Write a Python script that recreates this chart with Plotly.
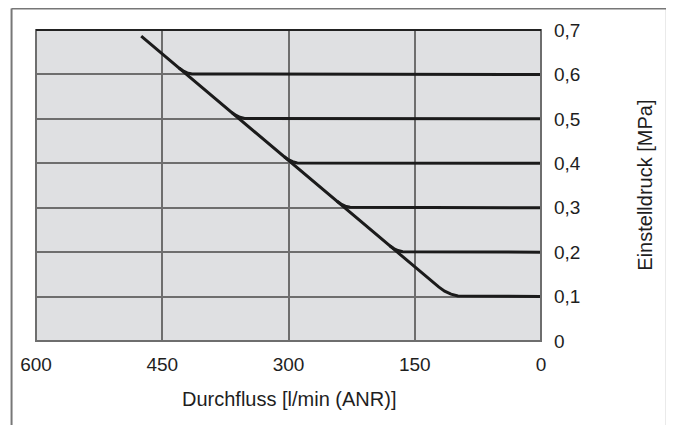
import plotly.graph_objects as go

# ---- data ----
x_ticks = [600, 450, 300, 150, 0]
y_ticks = [0, 0.1, 0.2, 0.3, 0.4, 0.5, 0.6, 0.7]
y_ticklabels = ["0", "0,1", "0,2", "0,3", "0,4", "0,5", "0,6", "0,7"]

flow_01 = [0, 90, 98.7, 106.9, 114.5, 121.6, 475]
pres_01 = [0.1, 0.1, 0.1014, 0.1054, 0.1122, 0.1217, 0.686]

flow_02 = [0, 158.6, 164.4, 169.9, 175.0, 179.7]
pres_02 = [0.2, 0.2, 0.2009, 0.2036, 0.2082, 0.2145]

flow_03 = [0, 221.2, 227.0, 232.5, 237.6, 242.3]
pres_03 = [0.3, 0.3, 0.3009, 0.3036, 0.3082, 0.3145]

flow_04 = [0, 283.8, 289.6, 295.1, 300.2, 304.9]
pres_04 = [0.4, 0.4, 0.4009, 0.4036, 0.4082, 0.4145]

flow_05 = [0, 346.4, 352.2, 357.7, 362.8, 367.5]
pres_05 = [0.5, 0.5, 0.5009, 0.5036, 0.5082, 0.5145]

flow_06 = [0, 409.0, 414.8, 420.3, 425.4, 430.1]
pres_06 = [0.6, 0.6, 0.6009, 0.6036, 0.6082, 0.6145]

x_title = "Durchfluss [l/min (ANR)]"
y_title = "Einstelldruck [MPa]"

curves = [(flow_01, pres_01), (flow_02, pres_02), (flow_03, pres_03),
          (flow_04, pres_04), (flow_05, pres_05), (flow_06, pres_06)]

FONT = "Liberation Sans, Arial, Helvetica, sans-serif"
TXT = "#1e1e1e"
GRID = "#6e6e6e"
CURVE = "#1b1b1b"

fig = go.Figure()
for fx, py in curves:
    fig.add_trace(go.Scatter(
        x=fx, y=py, mode="lines",
        line=dict(color=CURVE, width=3),
        hoverinfo="skip", showlegend=False,
    ))

fig.update_layout(
    width=674, height=425,
    margin=dict(l=27, r=140.5, t=15, b=92),
    paper_bgcolor="white",
    plot_bgcolor="#dfe0e2",
    showlegend=False,
    font=dict(family=FONT, size=19, color=TXT),
    xaxis=dict(
        range=[600, 0], tickvals=x_ticks, ticktext=[str(v) for v in x_ticks],
        showgrid=True, gridcolor=GRID, gridwidth=1.5,
        zeroline=False, showline=False, ticks="",
        ticklabelstandoff=10,
        tickfont=dict(family=FONT, size=19, color=TXT),
        fixedrange=True,
    ),
    yaxis=dict(
        range=[0, 0.7], side="right", tickvals=y_ticks, ticktext=y_ticklabels,
        showgrid=True, gridcolor=GRID, gridwidth=1.5,
        zeroline=False, showline=False, ticks="",
        ticklabelstandoff=12,
        tickfont=dict(family=FONT, size=19, color=TXT),
        fixedrange=True,
    ),
    annotations=[
        dict(text=x_title, xref="paper", yref="paper", x=0.5, y=-0.1855,
             xanchor="center", yanchor="middle", showarrow=False,
             font=dict(family=FONT, size=20, color=TXT)),
        dict(text=y_title, xref="paper", yref="paper", x=1.2043, y=0.5,
             xanchor="center", yanchor="middle", showarrow=False, textangle=-90,
             font=dict(family=FONT, size=20, color=TXT)),
    ],
    shapes=[
        # plot frame
        dict(type="rect", xref="paper", yref="paper", x0=0, x1=1, y0=0, y1=1,
             line=dict(color=GRID, width=2), layer="above"),
        dict(type="line", xref="paper", yref="paper", x0=0, x1=1, y0=1, y1=1,
             line=dict(color="#222222", width=2), layer="above"),
        # outer frame (open at the bottom)
        dict(type="line", xref="paper", yref="paper", x0=-0.0484, x1=-0.0484,
             y0=-0.4, y1=1.0692, line=dict(color="#777777", width=2)),
        dict(type="line", xref="paper", yref="paper", x0=-0.0484, x1=1.2492,
             y0=1.0692, y1=1.0692, line=dict(color="#777777", width=2)),
        dict(type="line", xref="paper", yref="paper", x0=1.2492, x1=1.2492,
             y0=-0.4, y1=1.0692, line=dict(color="#777777", width=2)),
    ],
)

fig.write_html("out.html")
